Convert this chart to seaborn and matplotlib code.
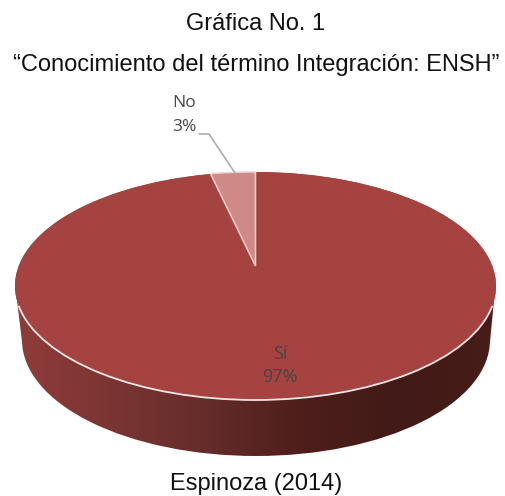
import numpy as np
import seaborn as sns
import matplotlib.pyplot as plt
from matplotlib.colors import LinearSegmentedColormap
from matplotlib.patches import Arc, Ellipse, PathPatch
from matplotlib.path import Path
from matplotlib.transforms import Affine2D

labels = ['No', 'Sí']
values = [3, 97]
colors = ['#cf8a88', '#a54341']
title_lines = ['Gráfica No. 1', '“Conocimiento del término Integración: ENSH”']
source = 'Espinoza (2014)'

W, H = 505, 496
sns.set_theme(style='white')
plt.rcParams['font.family'] = ['Liberation Sans', 'DejaVu Sans']

fig = plt.figure(figsize=(W / 100, H / 100), dpi=100)

# pixel axes for the side of the disc, y runs downward like the picture
back = fig.add_axes([0, 0, 1, 1])
back.set_xlim(0, W)
back.set_ylim(H, 0)
back.axis('off')

side_cmap = LinearSegmentedColormap.from_list(
    'side', ['#8f3c3a', '#7a3533', '#642c2a', '#4e1e1b', '#421a17', '#471c19'])
low = Ellipse((256, 340), 468, 232)
side_shape = Path.make_compound_path(
    low.get_path().transformed(low.get_patch_transform()),
    Path([(17, 300), (494, 300), (490, 342), (22, 342), (17, 300)], closed=True))
clip = PathPatch(side_shape, facecolor='none', edgecolor='none', transform=back.transData)
back.add_patch(clip)
grad = back.imshow(np.linspace(0, 1, 256)[None, :], cmap=side_cmap, aspect='auto',
                   extent=[17, 494, 460, 290])
grad.set_clip_path(clip)
back.set_xlim(0, W)
back.set_ylim(H, 0)

# top face, pie squashed into an ellipse
top_y, bot_y = 172, 400
pie_ax = fig.add_axes([15 / W, 1 - bot_y / H, 481 / W, (bot_y - top_y) / H])
pie_ax.add_patch(Ellipse((0, 0), 2, 2, facecolor=colors[1], edgecolor='none', zorder=0))
wedges, _ = pie_ax.pie(values, colors=colors, startangle=90, radius=1, center=(0, 0),
                       wedgeprops={'edgecolor': 'none'})
pie_ax.set_aspect('auto')
pie_ax.set_xlim(-1, 1)
pie_ax.set_ylim(-1, 1)
pie_ax.patch.set_visible(False)

# the small slice tip sits above the ellipse centre in the original
k = 94 / 114
wedges[0].set_transform(Affine2D().scale(1, k).translate(0, 1 - k) + pie_ax.transData)
wedges[0].set_zorder(3)
wedges[0].set_edgecolor('#ecd3d2')
wedges[0].set_linewidth(1.1)

# light rim along the front edge only
pie_ax.add_patch(Arc((0, 0), 2, 2, theta1=190, theta2=350, color='#f1e6e5', lw=1.3,
                     zorder=4, clip_on=False))

# overlay for texts and the leader line
front = fig.add_axes([0, 0, 1, 1])
front.set_xlim(0, W)
front.set_ylim(H, 0)
front.axis('off')
front.patch.set_visible(False)

front.plot([199, 209, 235], [134, 134, 173], color='#a6a6a6', lw=1.1)

front.text(256, 24, title_lines[0], ha='center', va='center', fontsize=17, color='#111111')
front.text(256, 65, title_lines[1], ha='center', va='center', fontsize=17, color='#111111')
front.text(256, 484, source, ha='center', va='center', fontsize=17, color='#111111')

label_font = ['Open Sans', 'DejaVu Sans']
front.text(184, 103, labels[0], ha='center', va='center', fontsize=12.5, color='#4a4a4a', family=label_font)
front.text(184, 127, '3%', ha='center', va='center', fontsize=12.5, color='#4a4a4a', family=label_font)
front.text(280, 354, labels[1], ha='center', va='center', fontsize=13, color='#4a4244', family=label_font)
front.text(280, 377, '97%', ha='center', va='center', fontsize=13, color='#4a4244', family=label_font)

fig.savefig('out.png', dpi=100)
